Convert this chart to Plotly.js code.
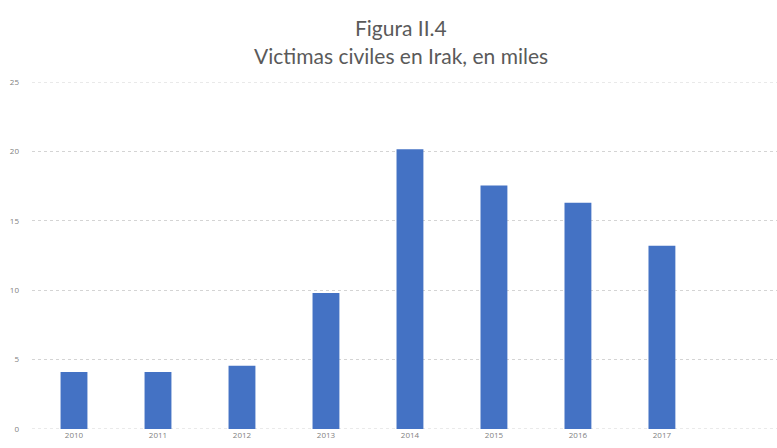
<!DOCTYPE html>
<html>
<head>
<meta charset="utf-8">
<script src="https://cdn.plot.ly/plotly-3.0.1.min.js"></script>
<style>html,body{margin:0;padding:0;background:#fff;}#chart{width:777px;height:448px;}</style>
</head>
<body>
<div id="chart"></div>
<script>
const years = ["2010","2011","2012","2013","2014","2015","2016","2017"];
const victims = [4.1, 4.1, 4.55, 9.8, 20.15, 17.55, 16.3, 13.2];
const yTicks = [0, 5, 10, 15, 20, 25];
const titleLines = ["Figura II.4", "Victimas civiles en Irak, en miles"];

const trace = {
  type: "bar",
  x: years,
  y: victims,
  marker: {color: "#4472C4"},
  hoverinfo: "x+y"
};

const titleFont = {family: "Lato", size: 21, color: "#5a5a5a"};
const gridColor = "#d4d4d4";

// edge gridlines (plotly omits grid lines lying exactly on the plot edges)
const edgeLines = [yTicks[0], yTicks[yTicks.length - 1]].map(v => ({
  type: "line", xref: "paper", yref: "y", x0: 0, x1: 1, y0: v, y1: v,
  line: {color: gridColor, width: 1, dash: "dot"}, layer: "below"
}));

const layout = {
  width: 777,
  height: 448,
  margin: {l: 32, r: 0, t: 82, b: 19},
  paper_bgcolor: "#ffffff",
  plot_bgcolor: "#ffffff",
  bargap: 0.68,
  showlegend: false,
  shapes: edgeLines,
  annotations: [
    {text: titleLines[0], xref: "paper", yref: "paper", x: 0.495, y: 1.1585, xanchor: "center", yanchor: "middle", showarrow: false, font: titleFont},
    {text: titleLines[1], xref: "paper", yref: "paper", x: 0.495, y: 1.0778, xanchor: "center", yanchor: "middle", showarrow: false, font: titleFont}
  ],
  xaxis: {
    type: "category",
    categoryorder: "array",
    categoryarray: years,
    range: [-0.5, 8.37],
    showgrid: false,
    zeroline: false,
    showline: false,
    ticks: "",
    tickfont: {family: "Open Sans", size: 8, color: "#7f7f7f"}
  },
  yaxis: {
    range: [0, 25],
    tickvals: yTicks,
    ticktext: yTicks.map(String),
    showgrid: true,
    gridcolor: gridColor,
    griddash: "dot",
    gridwidth: 1,
    zeroline: false,
    showline: false,
    ticks: "",
    ticklabelstandoff: 12,
    tickfont: {family: "Open Sans", size: 8, color: "#7f7f7f"}
  }
};

Plotly.newPlot("chart", [trace], layout, {displayModeBar: false, staticPlot: true});
</script>
</body>
</html>
